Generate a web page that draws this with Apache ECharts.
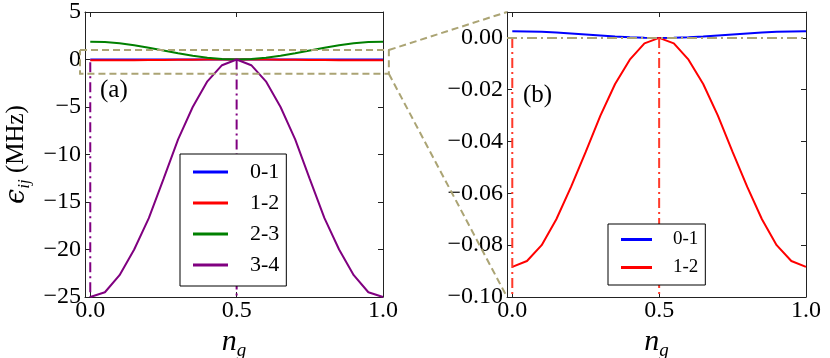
<!DOCTYPE html>
<html>
<head>
<meta charset="utf-8">
<script src="https://cdn.jsdelivr.net/npm/echarts@6/dist/echarts.min.js"></script>
<style>
html, body { margin: 0; padding: 0; background: #fff; }
#chart { width: 830px; height: 358px; }
</style>
</head>
<body>
<div id="chart"></div>
<script>
// n_g sample points
var ng = [0, 0.05, 0.1, 0.15, 0.2, 0.25, 0.3, 0.35, 0.4, 0.45, 0.5,
          0.55, 0.6, 0.65, 0.7, 0.75, 0.8, 0.85, 0.9, 0.95, 1];
// transition energies (MHz)
var e01 = [0.0026, 0.0025, 0.0024, 0.0021, 0.0017, 0.0013, 0.0009, 0.0005, 0.00025, 0.00006, 0,
           0.00006, 0.00025, 0.0005, 0.0009, 0.0013, 0.0017, 0.0021, 0.0024, 0.0025, 0.0026];
var e12 = [-0.0884, -0.0861, -0.0800, -0.0700, -0.0575, -0.0440, -0.0300, -0.0178, -0.0084, -0.0021, 0,
           -0.0021, -0.0084, -0.0178, -0.0300, -0.0440, -0.0575, -0.0700, -0.0800, -0.0861, -0.0884];
var e23 = [1.87, 1.83, 1.70, 1.49, 1.23, 0.94, 0.65, 0.39, 0.18, 0.05, 0,
           0.05, 0.18, 0.39, 0.65, 0.94, 1.23, 1.49, 1.70, 1.83, 1.87];
var e34 = [-25.0, -24.5, -22.7, -20.0, -16.7, -12.6, -8.4, -5.0, -2.3, -0.6, 0,
           -0.6, -2.3, -5.0, -8.4, -12.6, -16.7, -20.0, -22.7, -24.5, -25.0];

var xTicks = [0, 0.5, 1];
var yTicksA = [5, 0, -5, -10, -15, -20, -25];
var yTicksB = [0, -0.02, -0.04, -0.06, -0.08, -0.1];

var xMin = -0.018;
var zoomBox = { x0: -0.035, x1: 1.02, y0: -1.5, y1: 1.0 };

var FONT = "'Liberation Serif', 'Times New Roman', serif";
var TAN = '#aba474';
var DASHDOT = [10, 4, 2, 4];

function pairs(xs, ys) {
    return xs.map(function (x, i) { return [x, ys[i]]; });
}
function minus(s) { return String(s).replace('-', '\u2212'); }

function xAxisDef(grid, pos, withLabel) {
    return {
        type: 'value', gridIndex: grid, position: pos, min: xMin, max: 1,
        axisLine: { show: true, onZero: false, lineStyle: { color: '#222', width: 1 } },
        axisTick: { show: true, inside: true, length: 5, customValues: xTicks, lineStyle: { color: '#222' } },
        axisLabel: {
            show: withLabel, customValues: xTicks, margin: 2,
            color: '#000', fontFamily: FONT, fontSize: 24,
            formatter: function (v) { return v.toFixed(1); }
        },
        splitLine: { show: false },
        name: withLabel ? '{n|n}{g|g}' : '',
        nameLocation: 'middle', nameGap: 28, nameMoveOverlap: false,
        nameTextStyle: {
            color: '#000', fontFamily: FONT,
            rich: {
                n: { fontStyle: 'italic', fontSize: 30, fontFamily: FONT, color: '#000' },
                g: { fontStyle: 'italic', fontSize: 19, fontFamily: FONT, color: '#000', padding: [16, 0, 0, 0] }
            }
        }
    };
}

function yAxisDef(grid, pos, min, max, ticks, fmt, withLabel) {
    return {
        type: 'value', gridIndex: grid, position: pos, min: min, max: max,
        axisLine: { show: true, onZero: false, lineStyle: { color: '#222', width: 1 } },
        axisTick: { show: true, inside: true, length: 5, customValues: ticks, lineStyle: { color: '#222' } },
        axisLabel: {
            show: withLabel, customValues: ticks, margin: 4,
            color: '#000', fontFamily: FONT, fontSize: 24, formatter: fmt
        },
        splitLine: { show: false }
    };
}

function curve(name, color, xi, yi, ys) {
    return {
        name: name, type: 'line', xAxisIndex: xi, yAxisIndex: yi,
        data: pairs(ng, ys), symbol: 'none', color: color,
        lineStyle: { color: color, width: 2 }
    };
}

function segment(name, color, xi, yi, pts, dash, z) {
    return {
        name: name, type: 'line', xAxisIndex: xi, yAxisIndex: yi,
        data: pts, symbol: 'none', z: z || 3,
        lineStyle: { color: color, width: 2, type: dash }
    };
}

var chart = echarts.init(document.getElementById('chart'));

var yA = yAxisDef(0, 'left', -25, 5, yTicksA, function (v) { return minus(v); }, true);
yA.name = '{e|\u03f5}{s|ij} (MHz)';
yA.nameLocation = 'middle';
yA.nameGap = 52;
yA.nameMoveOverlap = false;
yA.nameTextStyle = {
    color: '#000', fontFamily: FONT, fontSize: 25,
    rich: {
        e: { fontStyle: 'italic', fontSize: 27, fontFamily: 'DejaVu Serif', color: '#000' },
        s: { fontStyle: 'italic', fontSize: 17, fontFamily: FONT, color: '#000', padding: [16, 0, 0, 0] }
    }
};

chart.setOption({
    animation: false,
    backgroundColor: '#fff',
    textStyle: { fontFamily: FONT },
    grid: [
        { left: 85, top: 12, width: 298, height: 285, outerBoundsMode: 'none' },
        { left: 507, top: 12, width: 299, height: 285, outerBoundsMode: 'none' }
    ],
    xAxis: [
        xAxisDef(0, 'bottom', true),
        xAxisDef(0, 'top', false),
        xAxisDef(1, 'bottom', true),
        xAxisDef(1, 'top', false)
    ],
    yAxis: [
        yA,
        yAxisDef(0, 'right', -25, 5, yTicksA, null, false),
        yAxisDef(1, 'left', -0.1, 0.01, yTicksB, function (v) { return minus(v.toFixed(2)); }, true),
        yAxisDef(1, 'right', -0.1, 0.01, yTicksB, null, false)
    ],
    legend: [
        {
            data: ['0-1', '1-2', '2-3', '3-4'],
            orient: 'vertical', left: 180, top: 154,
            icon: 'rect', itemWidth: 35, itemHeight: 3, itemGap: 9,
            padding: [7, 7, 10, 13],
            borderColor: '#000', borderWidth: 1, borderRadius: 0, backgroundColor: '#fff',
            textStyle: { color: '#000', fontFamily: FONT, fontSize: 22, padding: [0, 0, 0, 17] },
            selectedMode: false
        },
        {
            data: ['0-1', '1-2'],
            orient: 'vertical', left: 608, top: 224,
            icon: 'rect', itemWidth: 31, itemHeight: 3, itemGap: 9,
            padding: [6, 7, 8, 13],
            borderColor: '#000', borderWidth: 1, borderRadius: 0, backgroundColor: '#fff',
            textStyle: { color: '#000', fontFamily: FONT, fontSize: 19, padding: [0, 0, 0, 16] },
            selectedMode: false
        }
    ],
    series: [
        // panel (a)
        curve('0-1', '#0000ff', 0, 0, e01),
        curve('1-2', '#ff0000', 0, 0, e12),
        curve('2-3', '#008000', 0, 0, e23),
        curve('3-4', '#800080', 0, 0, e34),
        segment('va0', '#800080', 0, 0, [[0, -0.3], [0, -25]], DASHDOT),
        segment('va1', '#800080', 0, 0, [[0.5, 0], [0.5, -25]], DASHDOT),
        // panel (b)
        curve('0-1', '#0000ff', 2, 2, e01),
        curve('1-2', '#ff0000', 2, 2, e12),
        segment('h0', TAN, 2, 2, [[xMin, 0], [1, 0]], DASHDOT, 4),
        segment('vb0', '#ff3a2a', 2, 2, [[0, 0], [0, -0.1]], DASHDOT),
        segment('vb1', '#ff3a2a', 2, 2, [[0.5, 0], [0.5, -0.1]], DASHDOT)
    ]
});

// zoom box in (a) and its connectors to the corners of (b)
var toA = { xAxisIndex: 0, yAxisIndex: 0 };
var toB = { xAxisIndex: 2, yAxisIndex: 2 };
var bTL = chart.convertToPixel(toA, [zoomBox.x0, zoomBox.y1]);
var bTR = chart.convertToPixel(toA, [zoomBox.x1, zoomBox.y1]);
var bBR = chart.convertToPixel(toA, [zoomBox.x1, zoomBox.y0]);
var bBL = chart.convertToPixel(toA, [zoomBox.x0, zoomBox.y0]);
var qTop = chart.convertToPixel(toB, [xMin, 0.01]);
var qBot = chart.convertToPixel(toB, [xMin, -0.1]);
var dashed = { stroke: TAN, fill: null, lineWidth: 2, lineDash: [7, 4] };

chart.setOption({
    graphic: [
        {
            type: 'polyline', z: 10, silent: true,
            shape: { points: [bTL, bTR, bBR, bBL, bTL] },
            style: dashed
        },
        {
            type: 'line', z: 10, silent: true,
            shape: { x1: bTR[0], y1: bTR[1], x2: qTop[0], y2: qTop[1] },
            style: dashed
        },
        {
            type: 'line', z: 10, silent: true,
            shape: { x1: bBR[0], y1: bBR[1], x2: qBot[0], y2: qBot[1] },
            style: dashed
        },
        {
            type: 'text', left: 100, top: 78, z: 10,
            style: { text: '(a)', fill: '#000', font: "25px 'Liberation Serif'" }
        },
        {
            type: 'text', left: 523, top: 83, z: 10,
            style: { text: '(b)', fill: '#000', font: "25px 'Liberation Serif'" }
        }
    ]
});
</script>
</body>
</html>
